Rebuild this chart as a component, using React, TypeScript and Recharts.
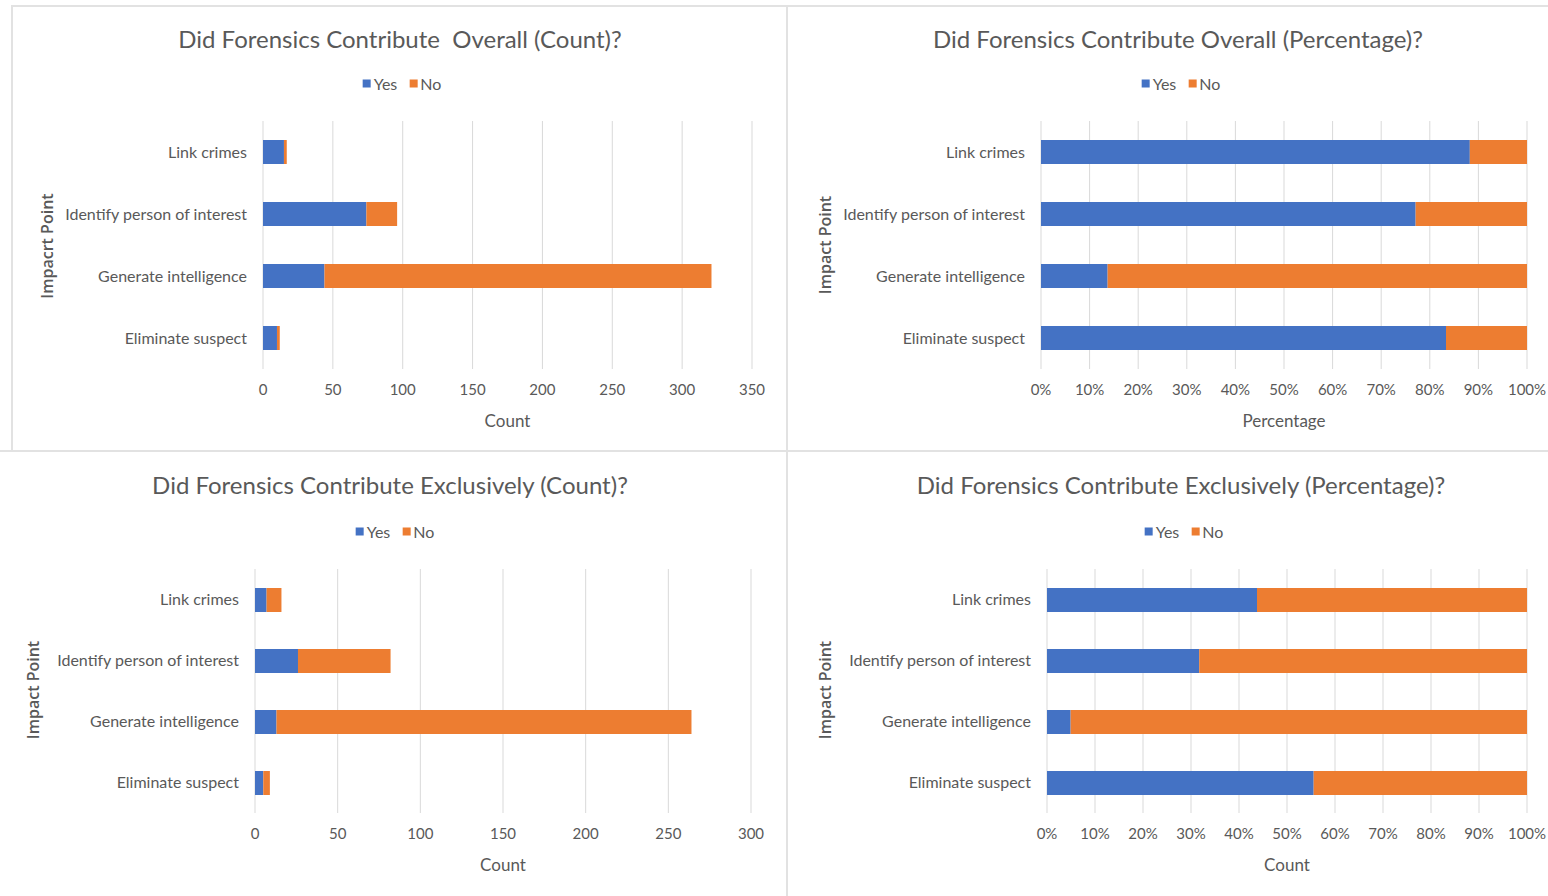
import React from "react";
import { BarChart, Bar, XAxis, YAxis, CartesianGrid } from "recharts";

const categories = [
  "Link crimes",
  "Identify person of interest",
  "Generate intelligence",
  "Eliminate suspect",
];
const overallYes = [15, 74, 44, 10];
const overallNo = [2, 22, 277, 2];
const exclusiveYes = [7, 26, 13, 5];
const exclusiveNo = [9, 56, 251, 4];

const overallCountTicks = [0, 50, 100, 150, 200, 250, 300, 350];
const exclusiveCountTicks = [0, 50, 100, 150, 200, 250, 300];
const pctTicks = [0, 0.1, 0.2, 0.3, 0.4, 0.5, 0.6, 0.7, 0.8, 0.9, 1];

const BLUE = "#4472C4";
const ORANGE = "#ED7D31";
const TEXT = "#595959";
const GRID = "#D9D9D9";
const FONT = "Lato, 'Open Sans', sans-serif";

const overallRows = categories.map((name, i) => ({ name, Yes: overallYes[i], No: overallNo[i] }));
const exclusiveRows = categories.map((name, i) => ({ name, Yes: exclusiveYes[i], No: exclusiveNo[i] }));

type Box = { x: number; y: number; w: number; h: number };
type Plot = { left: number; right: number; top: number; bottom: number };

function Panel(props: {
  box: Box;
  plot: Plot;
  rows: any[];
  ticks: number[];
  expand: boolean;
  title: string;
  titleX: number;
  titleY: number;
  legendX: number;
  legendY: number;
  yLabel: string;
  yLabelX: number;
  yLabelY: number;
  xLabel: string;
  xLabelY: number;
}) {
  const { box, plot, rows, ticks, expand } = props;
  const yAxisWidth = plot.left - box.x;
  const xAxisHeight = box.y + box.h - plot.bottom;
  const margin = { top: plot.top - box.y, right: box.x + box.w - plot.right, bottom: 0, left: 0 };
  const xTickStyle = { fill: TEXT, fontSize: 15, fontFamily: FONT };
  const yTickStyle = { fill: TEXT, fontSize: 16, fontFamily: FONT };
  const xMid = (plot.left + plot.right) / 2;
  return (
    <>
      <div
        style={{
          position: "absolute",
          left: props.titleX,
          top: props.titleY,
          transform: "translate(-50%, -50%)",
          whiteSpace: "pre",
          fontSize: 24,
          color: TEXT,
          fontFamily: FONT,
        }}
      >
        {props.title}
      </div>
      <div
        style={{
          position: "absolute",
          left: props.legendX,
          top: props.legendY,
          transform: "translate(-50%, -50%)",
          whiteSpace: "nowrap",
          fontSize: 16,
          color: TEXT,
          fontFamily: FONT,
          display: "flex",
          alignItems: "center",
        }}
      >
        <span style={{ display: "inline-block", width: 8, height: 8, background: BLUE, marginRight: 3 }} />
        <span style={{ marginRight: 12 }}>Yes</span>
        <span style={{ display: "inline-block", width: 8, height: 8, background: ORANGE, marginRight: 3 }} />
        <span>No</span>
      </div>
      <div
        style={{
          position: "absolute",
          left: props.yLabelX,
          top: props.yLabelY,
          transform: "translate(-50%, -50%) rotate(-90deg)",
          whiteSpace: "nowrap",
          fontSize: 16,
          fontWeight: 600,
          color: TEXT,
          fontFamily: "'Open Sans', sans-serif",
        }}
      >
        {props.yLabel}
      </div>
      <div
        style={{
          position: "absolute",
          left: xMid,
          top: props.xLabelY,
          transform: "translate(-50%, -50%)",
          whiteSpace: "nowrap",
          fontSize: 17,
          color: TEXT,
          fontFamily: FONT,
        }}
      >
        {props.xLabel}
      </div>
      <div style={{ position: "absolute", left: box.x, top: box.y }}>
        <BarChart
          width={box.w}
          height={box.h}
          data={rows}
          layout="vertical"
          margin={margin}
          stackOffset={expand ? "expand" : "none"}
        >
          <CartesianGrid horizontal={false} vertical={true} stroke={GRID} strokeWidth={1} />
          <XAxis
            type="number"
            domain={[0, ticks[ticks.length - 1]]}
            ticks={ticks}
            interval={0}
            axisLine={false}
            tickLine={false}
            tickSize={0}
            tickMargin={15}
            height={xAxisHeight}
            tick={xTickStyle}
            tickFormatter={(v: number) => (expand ? `${Math.round(v * 100)}%` : `${v}`)}
          />
          <YAxis
            type="category"
            dataKey="name"
            width={yAxisWidth}
            axisLine={false}
            tickLine={false}
            tickSize={0}
            tickMargin={16}
            interval={0}
            tick={yTickStyle}
          />
          <Bar dataKey="Yes" stackId="a" fill={BLUE} barSize={24} isAnimationActive={false} />
          <Bar dataKey="No" stackId="a" fill={ORANGE} barSize={24} isAnimationActive={false} />
        </BarChart>
      </div>
    </>
  );
}

const line = (left: number, top: number, width: number, height: number) => (
  <div style={{ position: "absolute", left, top, width, height, background: "#E2E2E2" }} />
);

export default function App() {
  return (
    <div
      style={{
        position: "absolute",
        left: 0,
        top: 0,
        width: 1548,
        height: 896,
        background: "#ffffff",
        overflow: "hidden",
      }}
    >
      {line(11, 5, 776, 2)}
      {line(11, 5, 2, 446)}
      {line(787, 5, 761, 2)}
      {line(786, 5, 2, 891)}
      {line(0, 450, 1548, 2)}

      <Panel
        box={{ x: 13, y: 7, w: 773, h: 443 }}
        plot={{ left: 263, right: 752, top: 121, bottom: 369 }}
        rows={overallRows}
        ticks={overallCountTicks}
        expand={false}
        title={"Did Forensics Contribute  Overall (Count)?"}
        titleX={400}
        titleY={38}
        legendX={402}
        legendY={83}
        yLabel="Impacrt Point"
        yLabelX={47}
        yLabelY={246}
        xLabel="Count"
        xLabelY={420}
      />
      <Panel
        box={{ x: 788, y: 7, w: 760, h: 443 }}
        plot={{ left: 1041, right: 1527, top: 121, bottom: 369 }}
        rows={overallRows}
        ticks={pctTicks}
        expand={true}
        title={"Did Forensics Contribute Overall (Percentage)?"}
        titleX={1178}
        titleY={38}
        legendX={1181}
        legendY={83}
        yLabel="Impact Point"
        yLabelX={825}
        yLabelY={245}
        xLabel="Percentage"
        xLabelY={420}
      />
      <Panel
        box={{ x: 0, y: 452, w: 786, h: 444 }}
        plot={{ left: 255, right: 751, top: 569, bottom: 813 }}
        rows={exclusiveRows}
        ticks={exclusiveCountTicks}
        expand={false}
        title={"Did Forensics Contribute Exclusively (Count)?"}
        titleX={390}
        titleY={484}
        legendX={395}
        legendY={531}
        yLabel="Impact Point"
        yLabelX={33}
        yLabelY={690}
        xLabel="Count"
        xLabelY={864}
      />
      <Panel
        box={{ x: 788, y: 452, w: 760, h: 444 }}
        plot={{ left: 1047, right: 1527, top: 569, bottom: 813 }}
        rows={exclusiveRows}
        ticks={pctTicks}
        expand={true}
        title={"Did Forensics Contribute Exclusively (Percentage)?"}
        titleX={1181}
        titleY={484}
        legendX={1184}
        legendY={531}
        yLabel="Impact Point"
        yLabelX={825}
        yLabelY={690}
        xLabel="Count"
        xLabelY={864}
      />
    </div>
  );
}
